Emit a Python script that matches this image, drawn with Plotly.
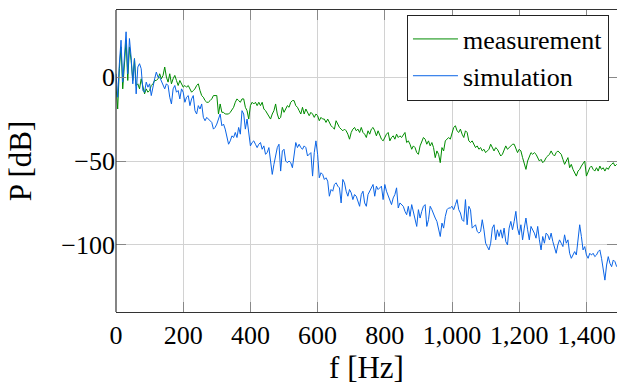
import numpy as np
import plotly.graph_objects as go

# frequency grid [Hz] (5 Hz sampling)
freq = np.arange(0, 1495, 5)

measurement = [
    -5, -19, 5, 18, -7, 10, 22, -2, 18, 10, -2, 11, -5, -4, -7, -1, -5, -10, -7, -9,
    -8, -5, -4, -2, -2, -1, 2, -1, 1, 6, 0, -3, 2, -4, -1, 1, -2, -5, -2, -4,
    -6, -5, -6, -5, -7, -9, -8, -7, -5, -4, -8, -11, -12, -14, -15, -15, -14, -13, -11, -11,
    -11, -22, -16, -21, -21, -22, -22, -22, -21, -19, -18, -15, -13, -14, -15, -13, -13, -18, -20, -25,
    -17, -15, -16, -15, -17, -15, -17, -15, -19, -20, -22, -24, -25, -22, -20, -16, -22, -25, -24, -18,
    -21, -19, -17, -18, -15, -14, -14, -17, -18, -20, -22, -18, -22, -19, -21, -23, -21, -22, -24, -22,
    -23, -26, -24, -25, -25, -27, -25, -27, -29, -30, -31, -26, -28, -30, -31, -32, -31, -32, -34, -37,
    -33, -31, -30, -32, -31, -33, -30, -33, -34, -36, -32, -34, -31, -30, -32, -35, -32, -34, -37, -38,
    -36, -34, -33, -38, -36, -35, -37, -34, -36, -35, -36, -34, -33, -39, -38, -40, -43, -41, -42, -45,
    -46, -41, -38, -36, -37, -40, -38, -41, -39, -42, -48, -44, -46, -51, -42, -44, -38, -37, -36, -37,
    -33, -30, -29, -32, -33, -31, -34, -36, -32, -33, -38, -39, -38, -40, -42, -41, -43, -42, -44, -43,
    -45, -44, -43, -40, -42, -44, -42, -43, -45, -47, -46, -43, -41, -43, -42, -41, -40, -40, -43, -45,
    -43, -44, -48, -52, -55, -50, -47, -45, -46, -45, -46, -48, -50, -49, -51, -50, -48, -47, -46, -44,
    -46, -47, -45, -44, -45, -46, -49, -52, -50, -48, -54, -52, -55, -57, -59, -56, -55, -53, -51, -50,
    -59, -57, -54, -53, -55, -56, -54, -56, -53, -55, -54, -56, -54, -55, -53, -52, -51, -53, -52,
]

simulation = [
    2, -12, 8, 22, -3, 15, 27, 2, 23, 12, -4, 11, -10, 6, 8, 5, -8, -9, -3, -6,
    -4, -11, -5, -1, 3, 0, 0, -2, -5, -7, -4, -5, -12, -16, -7, -5, -9, -8, -13, -7,
    -9, -15, -12, -11, -17, -13, -11, -20, -22, -17, -19, -16, -24, -26, -24, -25, -26, -27, -31, -30,
    -28, -25, -22, -29, -28, -31, -36, -40, -38, -35, -36, -33, -36, -30, -34, -20, -22, -31, -25, -35,
    -41, -39, -38, -40, -42, -40, -39, -43, -41, -46, -45, -42, -51, -58, -52, -46, -42, -40, -56, -44,
    -43, -50, -51, -50, -51, -54, -45, -39, -42, -40, -42, -43, -41, -42, -47, -46, -45, -59, -45, -38,
    -46, -60, -57, -58, -61, -60, -62, -71, -67, -68, -64, -63, -65, -66, -75, -61, -63, -68, -71, -67,
    -69, -73, -70, -71, -74, -77, -70, -68, -75, -77, -70, -68, -66, -64, -71, -65, -67, -66, -65, -73,
    -64, -68, -71, -74, -76, -72, -70, -66, -78, -75, -76, -77, -80, -82, -77, -83, -76, -80, -85, -89,
    -79, -84, -80, -77, -76, -89, -85, -77, -79, -82, -84, -86, -90, -95, -87, -90, -83, -79, -78, -78,
    -77, -79, -76, -73, -79, -81, -85, -86, -73, -88, -77, -79, -90, -89, -88, -92, -93, -92, -85, -91,
    -99, -101, -103, -99, -90, -88, -97, -91, -95, -91, -96, -90, -98, -100, -90, -86, -91, -86, -80, -90,
    -94, -88, -97, -90, -84, -91, -97, -89, -91, -93, -96, -89, -97, -103, -95, -99, -93, -94, -97, -93,
    -98, -102, -105, -100, -97, -99, -101, -94, -99, -97, -105, -108, -106, -104, -106, -97, -88, -95, -103, -101,
    -106, -108, -105, -106, -105, -107, -106, -104, -103, -108, -114, -121, -112, -107, -111, -113, -109, -110, -113,
]

x_ticks = [0, 200, 400, 600, 800, 1000, 1200, 1400]
x_ticktext = ["0", "200", "400", "600", "800", "1,000", "1,200", "1,400"]
y_ticks = [0, -50, -100]
y_ticktext = ["0", "\u221250", "\u2212100"]

FONT = "Liberation Serif"

fig = go.Figure()
fig.add_trace(go.Scatter(x=freq, y=measurement, mode="lines", name="measurement",
                         line=dict(color="#008c00", width=1)))
fig.add_trace(go.Scatter(x=freq, y=simulation, mode="lines", name="simulation",
                         line=dict(color="#0a64e6", width=1)))

fig.update_layout(
    width=617, height=385,
    margin=dict(l=116, r=0, t=10, b=73),
    paper_bgcolor="white", plot_bgcolor="white",
    font=dict(family=FONT, size=26, color="black"),
    showlegend=True,
    legend=dict(x=0.984, y=0.985, xanchor="right", yanchor="top",
                bgcolor="white", bordercolor="#222", borderwidth=1,
                font=dict(family=FONT, size=26), itemwidth=45,
                tracegroupgap=0),
    xaxis=dict(range=[0, 1491], tickvals=x_ticks, ticktext=x_ticktext,
               showgrid=True, gridcolor="#d2d2d2", gridwidth=1,
               zeroline=False, showline=True, linecolor="#333", linewidth=1.2,
               mirror="allticks", ticks="inside", ticklen=10, tickcolor="#888",
               title=dict(text="f [Hz]", standoff=12),
               tickfont=dict(family=FONT, size=26)),
    yaxis=dict(range=[-140, 40], tickvals=y_ticks, ticktext=y_ticktext,
               showgrid=True, gridcolor="#d2d2d2", gridwidth=1,
               zeroline=False, showline=False, mirror="ticks",
               ticks="inside", ticklen=10, tickcolor="#888",
               title=dict(text="P [dB]", standoff=20),
               tickfont=dict(family=FONT, size=26)),
    shapes=[dict(type="line", xref="paper", yref="paper", x0=0, x1=0, y0=0, y1=1,
                 line=dict(color="#333", width=1.2))],
)

fig.write_html("out.html")
